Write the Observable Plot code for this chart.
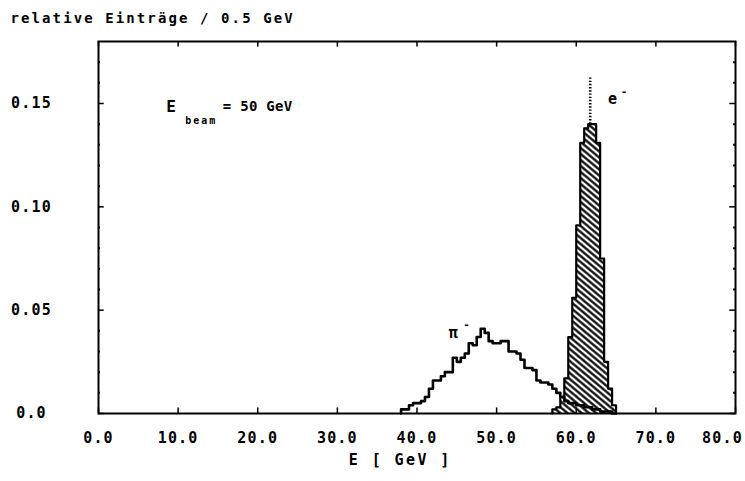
<!DOCTYPE html>
<html>
<head>
<meta charset="utf-8">
<script src="https://cdn.jsdelivr.net/npm/d3@7"></script>
<script src="https://cdn.jsdelivr.net/npm/@observablehq/plot@0.6"></script>
<style>
  body { margin: 0; background: #fff; }
  #chart svg text { letter-spacing: 1.2px; }
</style>
</head>
<body>
<div id="chart"></div>
<script>
// Energy spectra for a 50 GeV beam, relative entries per 0.5 GeV bin.
// Left edges of the pi- bins (GeV)
const pionEdges = [
  38.0, 38.5, 39.0, 39.5, 40.0, 40.5, 41.0, 41.5, 42.0, 42.5,
  43.0, 43.5, 44.0, 44.5, 45.0, 45.5, 46.0, 46.5, 47.0, 47.5,
  48.0, 48.5, 49.0, 49.5, 50.0, 50.5, 51.0, 51.5, 52.0, 52.5,
  53.0, 53.5, 54.0, 54.5, 55.0, 55.5, 56.0, 56.5, 57.0, 57.5,
  58.0, 58.5, 59.0, 59.5, 60.0, 60.5, 61.0, 61.5, 62.0, 62.5,
  63.0, 63.5, 64.0, 64.5, 65.0
];
const pionValues = [
  0.002, 0.002, 0.004, 0.005, 0.005, 0.006, 0.008, 0.012, 0.016, 0.016,
  0.018, 0.020, 0.020, 0.027, 0.025, 0.027, 0.029, 0.034, 0.033, 0.037,
  0.041, 0.039, 0.035, 0.034, 0.034, 0.035, 0.035, 0.030, 0.030, 0.029,
  0.026, 0.022, 0.022, 0.021, 0.016, 0.015, 0.015, 0.014, 0.012, 0.010,
  0.008, 0.006, 0.005, 0.005, 0.004, 0.004, 0.003, 0.003, 0.002, 0.002,
  0.001, 0.001, 0.001, 0.000, 0.000
];

// Left edges of the e- bins (GeV)
const electronEdges = [
  57.0, 57.5, 58.0, 58.5, 59.0, 59.5, 60.0, 60.5, 61.0, 61.5,
  62.0, 62.5, 63.0, 63.5, 64.0, 64.5, 65.0
];
const electronValues = [
  0.002, 0.003, 0.008, 0.017, 0.037, 0.056, 0.091, 0.131, 0.138, 0.140,
  0.140, 0.131, 0.075, 0.025, 0.012, 0.004, 0.000
];

// statistical error on the e- peak bin
const peakBin = [{x: 61.75, lo: 0.140, hi: 0.163}];

const xTicks = [0, 10, 20, 30, 40, 50, 60, 70, 80];
const yTicks = [0, 0.05, 0.10, 0.15];
const yMinorTicks = [0.01, 0.02, 0.03, 0.04, 0.06, 0.07, 0.08, 0.09,
                     0.11, 0.12, 0.13, 0.14, 0.16, 0.17];

const xDomain = [0, 80];
const yDomain = [0, 0.18];

const labels = [
  {x: 8.5,  y: 0.1485, text: "E", size: 16},
  {x: 15.6, y: 0.1485, text: "= 50 GeV", size: 14},
  {x: 64.0, y: 0.1520, text: "e", size: 15},
  {x: 65.6, y: 0.1560, text: "-", size: 11},
  {x: 44.0, y: 0.0390, text: "π", size: 15},
  {x: 45.8, y: 0.0430, text: "-", size: 11}
];
const subscripts = [{x: 10.9, y: 0.1418, text: "beam"}];

const title = "relative Einträge / 0.5 GeV";
const xTitle = "E [ GeV ]";

// step outlines: start at the baseline, end at the right edge of the last bin
const stepRows = (edges, values) => {
  const rows = [{x: edges[0], y: 0}];
  edges.forEach((x, i) => rows.push({x, y: values[i]}));
  return rows;
};
const pion = stepRows(pionEdges, pionValues);
const electron = stepRows(electronEdges, electronValues);

const xUnit = xDomain[1] - xDomain[0];
const yUnit = yDomain[1] - yDomain[0];
const fmtX = d3.format(".1f");
const fmtY = d => d === 0 ? "0.0" : d.toFixed(2);

const chart = Plot.plot({
  width: 745,
  height: 481,
  marginTop: 41,
  marginBottom: 68,
  marginLeft: 98,
  marginRight: 10,
  style: {fontFamily: "'DejaVu Sans Mono', monospace", fontWeight: "bold", fontSize: "13px", color: "black", background: "white"},
  x: {domain: xDomain},
  y: {domain: yDomain},
  marks: [
    Plot.areaY(electron, {x: "x", y: "y", curve: "step-after", fill: "url(#hatch)"}),
    Plot.line(electron, {x: "x", y: "y", curve: "step-after", stroke: "black", strokeWidth: 2.2}),
    Plot.line(pion, {x: "x", y: "y", curve: "step-after", stroke: "black", strokeWidth: 2.6}),
    Plot.ruleX(peakBin, {x: "x", y1: "lo", y2: "hi", stroke: "black", strokeWidth: 2.6, strokeDasharray: "1.4,1.8"}),
    Plot.frame({stroke: "black", strokeWidth: 2}),
    // inward ticks on all four sides
    Plot.ruleX(xTicks, {x: d => d, y1: yDomain[0], y2: yDomain[0] + yUnit * 0.015, stroke: "black", strokeWidth: 1.5}),
    Plot.ruleX(xTicks, {x: d => d, y1: yDomain[1], y2: yDomain[1] - yUnit * 0.015, stroke: "black", strokeWidth: 1.5}),
    Plot.ruleY(yTicks, {y: d => d, x1: xDomain[0], x2: xDomain[0] + xUnit * 0.009, stroke: "black", strokeWidth: 1.5}),
    Plot.ruleY(yTicks, {y: d => d, x1: xDomain[1], x2: xDomain[1] - xUnit * 0.009, stroke: "black", strokeWidth: 1.5}),
    Plot.ruleY(yMinorTicks, {y: d => d, x1: xDomain[0], x2: xDomain[0] + xUnit * 0.003, stroke: "black", strokeWidth: 2}),
    Plot.ruleY(yMinorTicks, {y: d => d, x1: xDomain[1], x2: xDomain[1] - xUnit * 0.003, stroke: "black", strokeWidth: 2}),
    Plot.axisX({ticks: xTicks.slice(0, -1), tickSize: 0, tickPadding: 19, tickFormat: fmtX, fontSize: 15, label: null}),
    Plot.axisX({ticks: xTicks.slice(-1), tickSize: 0, tickPadding: 19, tickFormat: fmtX, fontSize: 15, label: null, dx: -13}),
    Plot.axisY({ticks: yTicks, tickSize: 0, tickPadding: 67, textAnchor: "middle", tickFormat: fmtY, fontSize: 15, label: null}),
    Plot.text(labels, {x: "x", y: "y", text: "text", fontSize: "size", textAnchor: "start", fill: "black"}),
    Plot.text(subscripts, {x: "x", y: "y", text: "text", fontSize: 10, textAnchor: "start", fill: "black"}),
    Plot.text([xTitle], {x: 37.9, frameAnchor: "bottom", dy: 51, fontSize: 15, fill: "black"}),
    Plot.text([title], {frameAnchor: "top-left", dx: -88, dy: -28, textAnchor: "start", fontSize: 14, fill: "black"})
  ]
});

// wider spacing for the plotter-style headings
const spacing = new Map([[title, "2.1px"], [xTitle, "2.4px"], ["beam", "2px"], ["= 50 GeV", "0.3px"]]);
d3.select(chart).selectAll("text").each(function () {
  const s = spacing.get(this.textContent);
  if (s) this.style.letterSpacing = s;
});

// diagonal hatching used for the e- histogram
const defs = document.createElementNS("http://www.w3.org/2000/svg", "defs");
defs.innerHTML = `<pattern id="hatch" patternUnits="userSpaceOnUse" width="4.6" height="4.6" patternTransform="rotate(40)">
  <rect width="4.6" height="4.6" fill="white"/>
  <line x1="0" y1="2.3" x2="4.6" y2="2.3" stroke="black" stroke-width="2.2"/>
</pattern>`;
chart.prepend(defs);

document.getElementById("chart").appendChild(chart);
</script>
</body>
</html>
